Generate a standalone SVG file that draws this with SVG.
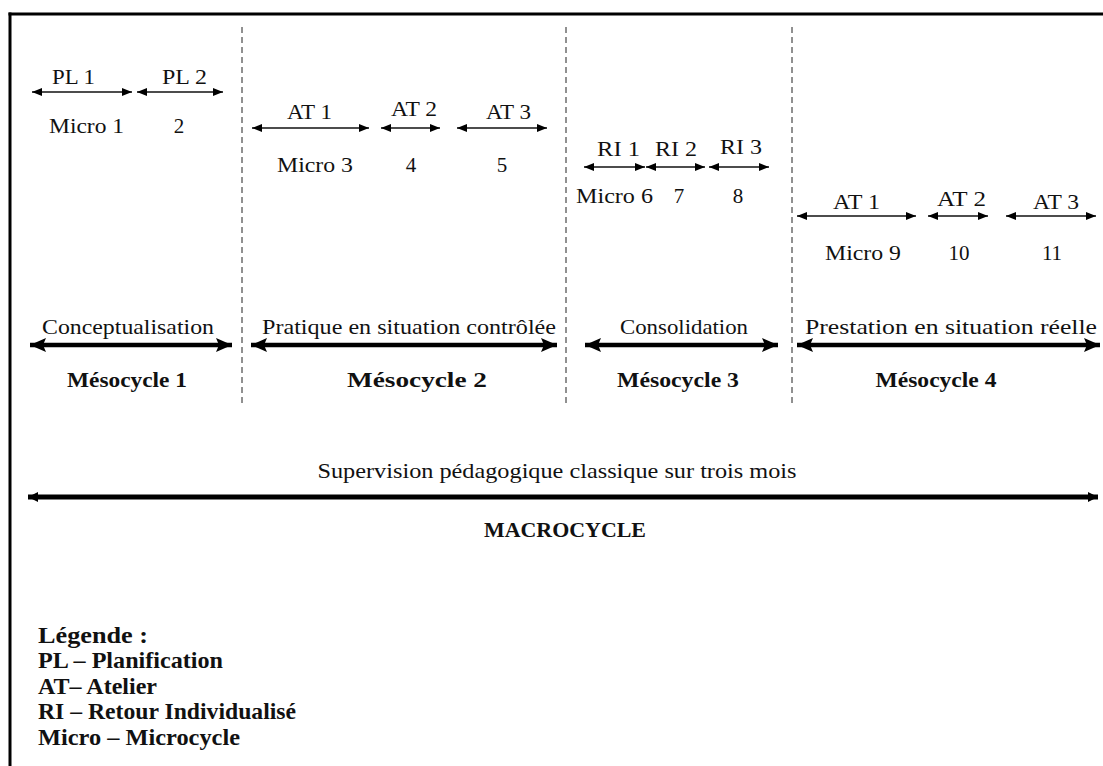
<svg xmlns="http://www.w3.org/2000/svg" width="1103" height="766" viewBox="0 0 1103 766">
<style>
text{font-family:'Liberation Serif','Times New Roman',Tinos,serif;font-size:21px;fill:#111}
.c{text-anchor:middle}
.b{font-weight:bold}
.lg{font-size:24px;font-weight:bold}
.thin{stroke:#111;stroke-width:1.6;fill:none;marker-start:url(#ht);marker-end:url(#ht)}
.thick{stroke:#000;stroke-width:4.5;fill:none;marker-start:url(#hk);marker-end:url(#hk)}
.dash{stroke:#222;stroke-width:1;stroke-dasharray:6 4}
</style>
<defs>
<marker id="ht" markerUnits="userSpaceOnUse" markerWidth="12" markerHeight="10" refX="10" refY="4" orient="auto-start-reverse"><path d="M0,0 L10,4 L0,8 Z" fill="#000"/></marker>
<marker id="hk" markerUnits="userSpaceOnUse" markerWidth="20" markerHeight="16" refX="16" refY="7" orient="auto-start-reverse"><path d="M0,0 L16,7 L0,14 L3,7 Z" fill="#000"/></marker>
<marker id="hd" markerUnits="userSpaceOnUse" markerWidth="14" markerHeight="12" refX="10" refY="5" orient="auto-start-reverse"><path d="M0,0 L10,5 L0,10 L-2,5 Z" fill="#000"/></marker>
</defs>
<rect width="1103" height="766" fill="#fff"/>
<g id="frame">
<line x1="8.5" y1="14" x2="1103" y2="14" stroke="#000" stroke-width="3"/>
<line x1="10" y1="12.5" x2="10" y2="766" stroke="#000" stroke-width="3"/>
</g>
<g id="dividers">
<line class="dash" x1="242" y1="27" x2="242" y2="406"/>
<line class="dash" x1="566" y1="27" x2="566" y2="406"/>
<line class="dash" x1="792" y1="27" x2="792" y2="406"/>
</g>
<g id="connectors">
<line class="thin" x1="32" y1="92" x2="132" y2="92"/>
<line class="thin" x1="137" y1="92" x2="223" y2="92"/>
<line class="thin" x1="252" y1="128" x2="369" y2="128"/>
<line class="thin" x1="381" y1="128" x2="440" y2="128"/>
<line class="thin" x1="457" y1="128" x2="547" y2="128"/>
<line class="thin" x1="584" y1="167" x2="645" y2="167"/>
<line class="thin" x1="646" y1="167" x2="705" y2="167"/>
<line class="thin" x1="709" y1="167" x2="769" y2="167"/>
<line class="thin" x1="797" y1="216" x2="916" y2="216"/>
<line class="thin" x1="928" y1="216" x2="988" y2="216"/>
<line class="thin" x1="1006" y1="216" x2="1096" y2="216"/>
<line class="thick" x1="30" y1="345" x2="232" y2="345"/>
<line class="thick" x1="251" y1="345" x2="557" y2="345"/>
<line class="thick" x1="585" y1="345" x2="778" y2="345"/>
<line class="thick" x1="797" y1="345" x2="1100" y2="345"/>
<line x1="28" y1="497" x2="1098" y2="497" stroke="#000" stroke-width="5" marker-start="url(#hd)" marker-end="url(#hd)"/>
</g>
<g font-family="'Liberation Serif','Times New Roman',serif">
<g id="meso1">
<text x="52" y="84" textLength="43" lengthAdjust="spacingAndGlyphs">PL 1</text>
<text x="162" y="84" textLength="45" lengthAdjust="spacingAndGlyphs">PL 2</text>
<text x="49" y="133" textLength="75" lengthAdjust="spacingAndGlyphs">Micro 1</text>
<text x="179" y="133" class="c">2</text>
<text x="128" y="334" class="c" textLength="172" lengthAdjust="spacingAndGlyphs">Conceptualisation</text>
<text x="127" y="387" class="c b" textLength="120" lengthAdjust="spacingAndGlyphs">Mésocycle 1</text>
</g>
<g id="meso2">
<text x="287" y="119" textLength="45" lengthAdjust="spacingAndGlyphs">AT 1</text>
<text x="391" y="116" textLength="46" lengthAdjust="spacingAndGlyphs">AT 2</text>
<text x="486" y="119" textLength="45" lengthAdjust="spacingAndGlyphs">AT 3</text>
<text x="277" y="172" textLength="76" lengthAdjust="spacingAndGlyphs">Micro 3</text>
<text x="411" y="172" class="c">4</text>
<text x="502" y="172" class="c">5</text>
<text x="409" y="334" class="c" textLength="294" lengthAdjust="spacingAndGlyphs">Pratique en situation contrôlée</text>
<text x="417" y="387" class="c b" textLength="140" lengthAdjust="spacingAndGlyphs">Mésocycle 2</text>
</g>
<g id="meso3">
<text x="597" y="156" textLength="43" lengthAdjust="spacingAndGlyphs">RI 1</text>
<text x="655" y="156" textLength="42" lengthAdjust="spacingAndGlyphs">RI 2</text>
<text x="720" y="154" textLength="42" lengthAdjust="spacingAndGlyphs">RI 3</text>
<text x="576" y="203" textLength="77" lengthAdjust="spacingAndGlyphs">Micro 6</text>
<text x="679" y="203" class="c">7</text>
<text x="738" y="203" class="c">8</text>
<text x="684" y="334" class="c" textLength="128" lengthAdjust="spacingAndGlyphs">Consolidation</text>
<text x="678" y="387" class="c b" textLength="122" lengthAdjust="spacingAndGlyphs">Mésocycle 3</text>
</g>
<g id="meso4">
<text x="833" y="209" textLength="47" lengthAdjust="spacingAndGlyphs">AT 1</text>
<text x="937" y="206" textLength="49" lengthAdjust="spacingAndGlyphs">AT 2</text>
<text x="1033" y="209" textLength="46" lengthAdjust="spacingAndGlyphs">AT 3</text>
<text x="825" y="260" textLength="76" lengthAdjust="spacingAndGlyphs">Micro 9</text>
<text x="959" y="260" class="c">10</text>
<text x="1052" y="260" class="c">11</text>
<text x="951" y="334" class="c" textLength="292" lengthAdjust="spacingAndGlyphs">Prestation en situation réelle</text>
<text x="936" y="387" class="c b" textLength="121" lengthAdjust="spacingAndGlyphs">Mésocycle 4</text>
</g>
<g id="macro">
<text x="557" y="478" class="c" textLength="479" lengthAdjust="spacingAndGlyphs">Supervision pédagogique classique sur trois mois</text>
<text x="565" y="537" class="c b" textLength="162" lengthAdjust="spacingAndGlyphs">MACROCYCLE</text>
</g>
<g id="legend">
<text x="38" y="643" class="lg" textLength="110" lengthAdjust="spacingAndGlyphs">Légende :</text>
<text x="38" y="668" class="lg" textLength="185" lengthAdjust="spacingAndGlyphs">PL – Planification</text>
<text x="38" y="694" class="lg" textLength="119" lengthAdjust="spacingAndGlyphs">AT– Atelier</text>
<text x="38" y="719" class="lg" textLength="258" lengthAdjust="spacingAndGlyphs">RI – Retour Individualisé</text>
<text x="38" y="745" class="lg" textLength="202" lengthAdjust="spacingAndGlyphs">Micro – Microcycle</text>
</g>
</g>
</svg>
